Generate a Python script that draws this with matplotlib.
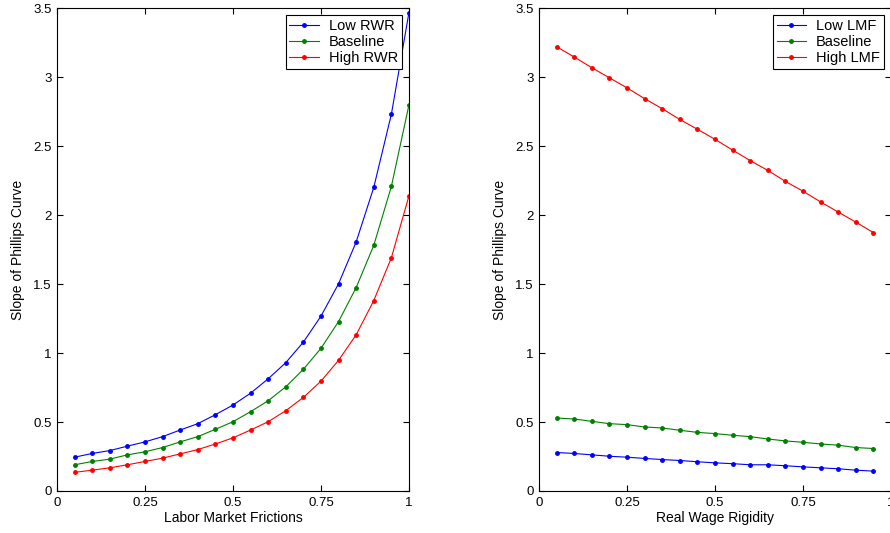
import numpy as np
import matplotlib
matplotlib.use("Agg")
import matplotlib.pyplot as plt

plt.rcParams['font.family'] = ['Liberation Sans', 'DejaVu Sans']
plt.rcParams['font.size'] = 9.5

# left panel: slope vs labor market frictions
lmf_x = [0.05, 0.10, 0.15, 0.20, 0.25, 0.30, 0.35, 0.40, 0.45, 0.50,
         0.55, 0.60, 0.65, 0.70, 0.75, 0.80, 0.85, 0.90, 0.95, 1.00]
low_rwr = [0.245, 0.272, 0.293, 0.325, 0.356, 0.394, 0.442, 0.488, 0.553, 0.623,
           0.709, 0.813, 0.930, 1.079, 1.267, 1.502, 1.805, 2.200, 2.730, 3.468]
base_rwr = [0.190, 0.214, 0.231, 0.262, 0.284, 0.315, 0.356, 0.394, 0.447, 0.502,
            0.575, 0.654, 0.755, 0.882, 1.034, 1.228, 1.474, 1.780, 2.207, 2.798]
high_rwr = [0.135, 0.151, 0.168, 0.190, 0.214, 0.238, 0.269, 0.300, 0.341, 0.385,
            0.442, 0.502, 0.582, 0.678, 0.796, 0.947, 1.132, 1.380, 1.690, 2.139]

# right panel: slope vs real wage rigidity
rwr_x = [0.05, 0.10, 0.15, 0.20, 0.25, 0.30, 0.35, 0.40, 0.45, 0.50,
         0.55, 0.60, 0.65, 0.70, 0.75, 0.80, 0.85, 0.90, 0.95]
low_lmf = [0.279, 0.272, 0.262, 0.252, 0.245, 0.236, 0.228, 0.221, 0.212, 0.204,
           0.198, 0.190, 0.190, 0.183, 0.175, 0.168, 0.161, 0.151, 0.144]
base_lmf = [0.529, 0.522, 0.505, 0.488, 0.481, 0.464, 0.457, 0.440, 0.425, 0.416,
            0.404, 0.394, 0.377, 0.363, 0.353, 0.341, 0.332, 0.315, 0.308]
high_lmf = [3.220, 3.146, 3.068, 2.995, 2.922, 2.844, 2.771, 2.693, 2.622, 2.549,
            2.471, 2.395, 2.324, 2.244, 2.173, 2.095, 2.022, 1.949, 1.873]

xticks = [0, 0.25, 0.5, 0.75, 1]
xticklabels = ['0', '0.25', '0.5', '0.75', '1']
yticks = [0, 0.5, 1, 1.5, 2, 2.5, 3, 3.5]
yticklabels = ['0', '0.5', '1', '1.5', '2', '2.5', '3', '3.5']

colors = ['#0000ff', '#008000', '#ff0000']

fig = plt.figure(figsize=(8.9, 5.33), dpi=100)
ax1 = fig.add_axes([0.064, 0.0788, 0.3955, 0.906])
ax2 = fig.add_axes([0.6056, 0.0788, 0.3955, 0.906])


def style(ax, xlabel, series, x, labels):
    for ys, c, lab in zip(series, colors, labels):
        ax.plot(x, ys, color=c, lw=0.8, marker='.', ms=5, label=lab)
    ax.set_xlim(0, 1)
    ax.set_ylim(0, 3.5)
    ax.set_xticks(xticks)
    ax.set_xticklabels(xticklabels)
    ax.set_yticks(yticks)
    ax.set_yticklabels(yticklabels)
    ax.tick_params(direction='in', top=True, right=True, length=4, width=0.8, pad=4)
    for s in ax.spines.values():
        s.set_linewidth(0.8)
    ax.set_xlabel(xlabel, labelpad=2, fontsize=10)
    ax.set_ylabel('Slope of Phillips Curve', labelpad=6, fontsize=10)
    leg = ax.legend(loc='upper right', fancybox=False, framealpha=1, edgecolor='black',
                    fontsize=10.5, borderpad=0.25, labelspacing=0.15, handlelength=2.0,
                    handletextpad=0.7, borderaxespad=0.5)
    leg.get_frame().set_linewidth(0.8)


style(ax1, 'Labor Market Frictions', [low_rwr, base_rwr, high_rwr], lmf_x,
      ['Low RWR', 'Baseline', 'High RWR'])
style(ax2, 'Real Wage Rigidity', [low_lmf, base_lmf, high_lmf], rwr_x,
      ['Low LMF', 'Baseline', 'High LMF'])

fig.savefig('out.png', dpi=100)
